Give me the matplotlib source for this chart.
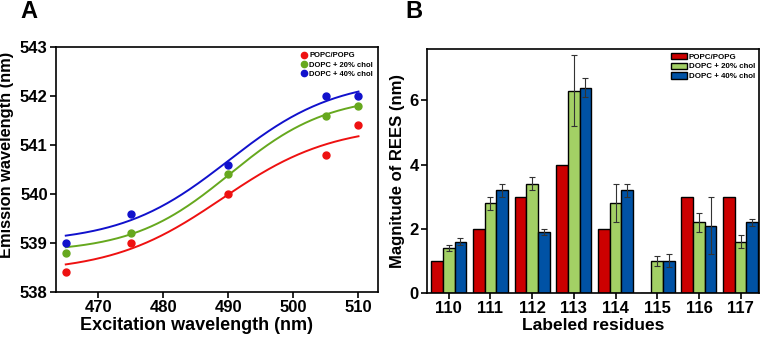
import numpy as np
import matplotlib.pyplot as plt

plt.rcParams['font.family'] = ['Liberation Sans', 'DejaVu Sans']
plt.rcParams['font.weight'] = 'bold'

# panel A data
excitation = [465, 475, 490, 505, 510]
em_popc = [538.4, 539.0, 540.0, 540.8, 541.4]
em_chol20 = [538.8, 539.2, 540.4, 541.6, 541.8]
em_chol40 = [539.0, 539.6, 540.6, 542.0, 542.0]
# fitted curve at the same excitation wavelengths
fit_popc = [538.55, 538.9, 539.98, 541.05, 541.15]
fit_chol20 = [538.9, 539.2, 540.37, 541.65, 541.78]
fit_chol40 = [539.13, 539.5, 540.65, 541.95, 542.05]

# panel B data
residues = ['110', '111', '112', '113', '114', '115', '116', '117']
rees_popc = [1.0, 2.0, 3.0, 4.0, 2.0, 0.0, 3.0, 3.0]
rees_chol20 = [1.4, 2.8, 3.4, 6.3, 2.8, 1.0, 2.2, 1.6]
rees_chol40 = [1.6, 3.2, 1.9, 6.4, 3.2, 1.0, 2.1, 2.2]
err_chol20 = [0.1, 0.2, 0.2, 1.1, 0.6, 0.15, 0.3, 0.2]
err_chol40 = [0.1, 0.2, 0.1, 0.3, 0.2, 0.2, 0.9, 0.1]

labels = ['POPC/POPG', 'DOPC + 20% chol', 'DOPC + 40% chol']


def sigmoid_fit(x, y):
    # 4 parameter sigmoid, grid over x0 and b, linear lsq for y0 and a
    x = np.asarray(x, float)
    y = np.asarray(y, float)
    best = None
    for x0 in np.linspace(475, 505, 121):
        for b in np.linspace(3, 20, 69):
            s = 1 / (1 + np.exp(-(x - x0) / b))
            A = np.column_stack([np.ones_like(s), s])
            coef, *_ = np.linalg.lstsq(A, y, rcond=None)
            r = np.sum((A @ coef - y) ** 2)
            if best is None or r < best[0]:
                best = (r, x0, b, coef)
    _, x0, b, coef = best
    return lambda t: coef[0] + coef[1] / (1 + np.exp(-(t - x0) / b))


fig = plt.figure(figsize=(7.64, 3.37), dpi=100)

## panel A ##
ax1 = fig.add_axes([56 / 764, 1 - 292 / 337, 322 / 764, 245 / 337])
cols_a = ['#ee1111', '#66a81e', '#1111cc']
xs = np.linspace(465, 510, 200)
for y, fy, c, lab in zip([em_popc, em_chol20, em_chol40],
                         [fit_popc, fit_chol20, fit_chol40], cols_a, labels):
    f = sigmoid_fit(excitation, fy)
    ax1.plot(xs, f(xs), color=c, lw=1.4)
    ax1.plot(excitation, y, 'o', color=c, ms=5, label=lab)
ax1.set_xlim(463.5, 513)
ax1.set_ylim(538, 543)
ax1.set_xticks([470, 480, 490, 500, 510])
ax1.set_yticks([538, 539, 540, 541, 542, 543])
ax1.set_xlabel('Excitation wavelength (nm)', fontsize=13, fontweight='bold')
ax1.set_ylabel('Emission wavelength (nm)', fontsize=11.8, fontweight='bold')
ax1.xaxis.set_label_coords(0.435, -0.1)
ax1.yaxis.set_label_coords(-0.13, 0.56)
ax1.tick_params(labelsize=12, width=1.2, length=4, pad=2)
for sp in ax1.spines.values():
    sp.set_linewidth(1.2)
ax1.legend(loc='upper right', frameon=False, fontsize=5.5, handlelength=0.8,
           handletextpad=0.3, labelspacing=0.25, borderaxespad=0.25, markerscale=0.9)
fig.text(20 / 764, 1 - 12 / 337, 'A', fontsize=17, fontweight='bold', va='center')

## panel B ##
ax2 = fig.add_axes([427 / 764, 1 - 293 / 337, 332 / 764, 244 / 337])
x = np.arange(len(residues))
w = 0.28
cols_b = ['#cc0000', '#a3d065', '#0052a5']
ekw = dict(ecolor='#333333', elinewidth=0.8, capsize=2.5, capthick=0.8)
ax2.bar(x - w, rees_popc, w, color=cols_b[0], edgecolor='black', lw=1.0, label=labels[0])
ax2.bar(x, rees_chol20, w, color=cols_b[1], edgecolor='black', lw=1.0, label=labels[1],
        yerr=err_chol20, error_kw=ekw)
ax2.bar(x + w, rees_chol40, w, color=cols_b[2], edgecolor='black', lw=1.0, label=labels[2],
        yerr=err_chol40, error_kw=ekw)
ax2.set_xlim(-0.52, 7.44)
ax2.set_ylim(0, 7.6)
ax2.set_xticks(x)
ax2.set_xticklabels(residues)
ax2.set_yticks([0, 2, 4, 6])
ax2.set_xlabel('Labeled residues', fontsize=12.5, fontweight='bold', labelpad=1)
ax2.set_ylabel('Magnitude of REES (nm)', fontsize=12, fontweight='bold', labelpad=3)
ax2.tick_params(labelsize=12, width=1.2, length=4, pad=2)
for sp in ax2.spines.values():
    sp.set_linewidth(1.2)
ax2.legend(loc='upper right', frameon=False, fontsize=5.7, handlelength=2.0,
           handleheight=0.8, handletextpad=0.25, labelspacing=0.25, borderaxespad=0.1)
fig.text(405 / 764, 1 - 12 / 337, 'B', fontsize=17, fontweight='bold', va='center')

fig.savefig('out.png', dpi=100)
